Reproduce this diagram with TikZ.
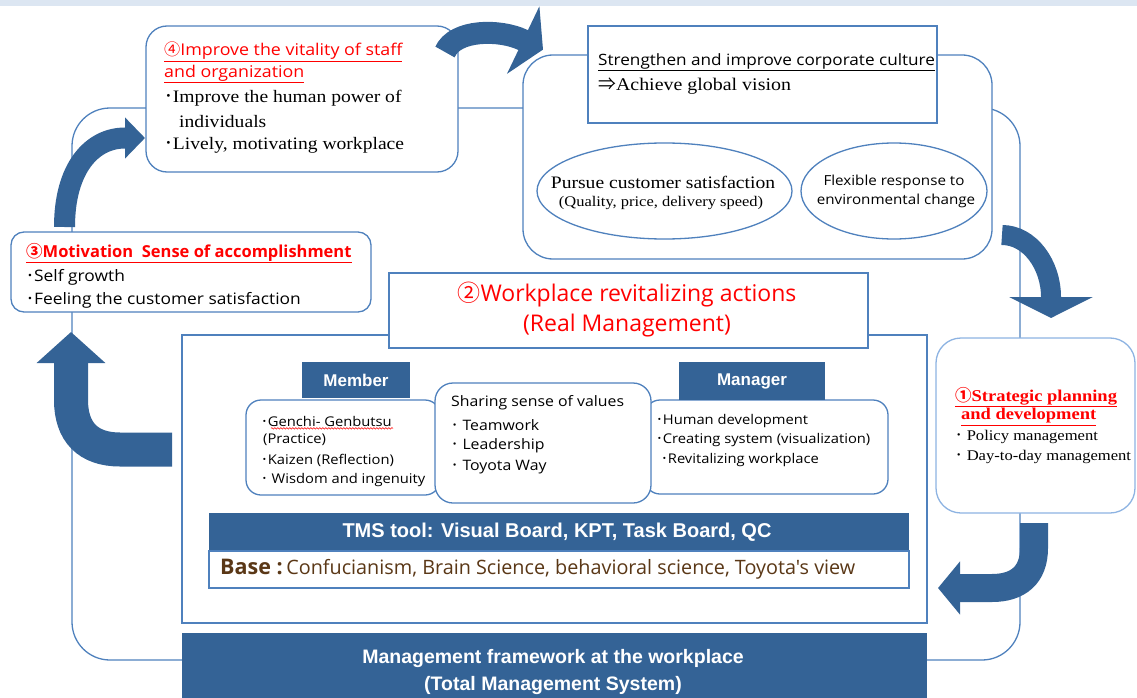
\documentclass[tikz,border=0pt]{standalone}
\usepackage{fontspec}
\setmainfont{Liberation Serif}
\newfontfamily\cent{Liberation Serif}[FakeStretch=1.12]
\newfontfamily\mei{Open Sans}
\newfontfamily\meiw{Open Sans}[FakeStretch=1.1]
\newfontfamily\heavy{Liberation Sans}
\newfontfamily\cjk{Noto Sans CJK JP}
\usetikzlibrary{arrows.meta,shapes.geometric,decorations.pathmorphing,fit}
\definecolor{arrowblue}{RGB}{52,99,150}
\definecolor{boxblue}{RGB}{79,129,189}
\definecolor{lightbox}{RGB}{141,179,226}
\definecolor{strip}{RGB}{220,230,242}
\definecolor{tred}{RGB}{255,0,0}
\definecolor{brown}{RGB}{90,55,22}
\newcommand{\fsz}[1]{\fontsize{#1}{#1}\selectfont}
\newcommand{\bul}{{\cjk ･}}
\tikzset{
  loopline/.style={draw=boxblue, line width=1.3pt},
  rbox/.style={draw=boxblue, fill=white, line width=1.3pt, inner sep=0pt},
  darkbox/.style={fill=arrowblue, inner sep=0pt},
  lbl/.style={inner sep=0pt, anchor=west},
  ctr/.style={inner sep=0pt},
  fatarrow/.style={draw=arrowblue, line cap=butt},
}
\begin{document}
\begin{tikzpicture}[x=1pt,y=-1pt]
\useasboundingbox (0,0) rectangle (1137,698);
% top strip
\fill[strip] (0,0) rectangle (1137,6);
% big loop
\node[loopline, rounded corners=38pt, inner sep=0pt, fit={(72,108) (1020,660)}] (loop) {};
% container and its contents
\node[rbox, rounded corners=30pt, fit={(523,55) (992,259)}] (cont) {};
\node[rbox, fit={(588,26) (937,123)}] (cult) {};
\node[draw=boxblue, line width=1.3pt, fill=white, ellipse, minimum width=255pt, minimum height=96pt, inner sep=0pt] (e1) at (664.5,191) {};
\node[draw=boxblue, line width=1.3pt, fill=white, ellipse, minimum width=186pt, minimum height=96pt, inner sep=0pt] (e2) at (894,191) {};
% box 4 and box 3
\node[rbox, rounded corners=21pt, fit={(146,26) (458,172)}] (b4) {};
\node[rbox, rounded corners=13pt, fit={(11,232) (371,312)}] (b3) {};
% central frame
\node[rbox, fit={(182,335) (927,623)}] (frame) {};
\node[rbox, fit={(389,273) (868,348)}] (b2) {};
\node[rbox, rounded corners=15pt, fit={(246,400) (440,495)}] (mem) {};
\node[rbox, rounded corners=15pt, fit={(645,400) (888,494)}] (man) {};
\node[rbox, rounded corners=18pt, fit={(435,383) (651,503)}] (share) {};
\node[darkbox, fit={(302,362) (410,398)}] (memlbl) {};
\node[darkbox, fit={(679,362) (825,400)}] (manlbl) {};
\node[darkbox, fit={(209,513) (909,551)}] (tms) {};
\node[rbox, fit={(209,551) (909,588)}] (base) {};
\node[darkbox, fit={(182,633) (927,702)}] (mgmt) {};
% box 1
\node[draw=lightbox, fill=white, line width=1.3pt, inner sep=0pt, rounded corners=25pt, fit={(936,338) (1135,513)}] (b1) {};

% arrows
\coordinate (a1s) at (445,52);   \coordinate (a1e) at (543,49.6);
\coordinate (a2s) at (1002,235); \coordinate (a2e) at (1051,318);
\coordinate (a3s) at (1034,523); \coordinate (a3e) at (938,588);
\coordinate (a4s) at (172,449.5);\coordinate (a4e) at (71,332);
\coordinate (a5s) at (64.5,227); \coordinate (a5e) at (145,138);
\draw[fatarrow, line width=22pt, -{Triangle[length=22pt,width=74pt]}]
  (a1s) .. controls (455,29) and (500,29) .. (523,40) -- (a1e);
\draw[fatarrow, line width=20pt, -{Triangle[length=21pt,width=83pt]}]
  (a2s) .. controls (1030,235) and (1051,265) .. (1051,297) -- (a2e);
\draw[fatarrow, line width=28pt, -{Triangle[length=22pt,width=52pt]}]
  (a3s) -- (1034,548) .. controls (1034,575) and (1018,588) .. (992,588) -- (a3e);
\draw[fatarrow, line width=34pt, -{Triangle[length=31pt,width=67pt]}]
  (a4s) -- (120,449.5) .. controls (88,449.5) and (71,432) .. (71,400) -- (a4e);
\draw[fatarrow, line width=21pt, -{Triangle[length=20pt,width=40pt]}]
  (a5s) .. controls (64.5,168) and (92,138) .. (125,138) -- (a5e);

% texts box 4
\node[lbl, text=tred, font=\meiw\fsz{16.2}] (t4a) at (164,52) {\underline{{\cjk ④}Improve the vitality of staff}};
\node[lbl, text=tred, font=\meiw\fsz{16.2}] (t4b) at (164,74) {\underline{and organization}};
\node[lbl, font=\cent\fsz{17.5}] (t4c) at (164,98) {\bul Improve the human power of};
\node[lbl, font=\cent\fsz{17.5}] (t4d) at (179,122) {individuals};
\node[lbl, font=\cent\fsz{17.5}] (t4e) at (164,145) {\bul Lively, motivating workplace};
% culture
\node[lbl, font=\meiw\fsz{15.6}] (tc1) at (598,62) {\underline{Strengthen and improve corporate culture}};
\node[lbl, font=\cent\fsz{17.8}] (tc2) at (598,86) {{\cjk ⇒}Achieve global vision};
\node[ctr, font=\cent\fsz{17.5}] (te1a) at (663,182) {Pursue customer satisfaction};
\node[ctr, font=\cent\fsz{14.7}] (te1b) at (661,203) {(Quality, price, delivery speed)};
\node[ctr, font=\meiw\fsz{13.8}] (te2a) at (894,182) {Flexible response to};
\node[ctr, font=\meiw\fsz{13.8}] (te2b) at (896,201) {environmental change};
% box 2 title
\node[ctr, text=tred, font=\mei\fsz{23}] (t2a) at (627,295) {{\cjk ②}Workplace revitalizing actions};
\node[ctr, text=tred, font=\mei\fsz{23}] (t2b) at (627,326) {(Real Management)};
% box 3
\node[lbl, text=tred, font=\mei\bfseries\fsz{16.5}] (t3a) at (26,253) {\underline{{\cjk ③}Motivation\ \ Sense of accomplishment}};
\node[lbl, font=\meiw\fsz{15.8}] (t3b) at (26,277) {\bul Self growth};
\node[lbl, font=\meiw\fsz{15.8}] (t3c) at (26,300) {\bul Feeling the customer satisfaction};
% member
\node[ctr, text=white, font=\heavy\bfseries\fsz{17}] (tmem) at (356,380) {Member};
\node[ctr, text=white, font=\heavy\bfseries\fsz{17}] (tman) at (752,381) {Manager};
\node[lbl, font=\meiw\fsz{13.4}] (tm1) at (261,421) {\bul Genchi- Genbutsu};
\draw[tred, line width=0.5pt, decorate, decoration={snake, amplitude=0.8pt, segment length=3pt}] (tm1.south west) ++(10,2) -- ++(122,0);
\node[lbl, font=\meiw\fsz{13.4}] (tm2) at (263,440) {(Practice)};
\node[lbl, font=\meiw\fsz{13.4}] (tm3) at (261,460) {\bul Kaizen (Reflection)};
\node[lbl, font=\meiw\fsz{13.4}] (tm4) at (261,480) {\bul\ Wisdom and ingenuity};
% sharing
\node[lbl, font=\meiw\fsz{14.4}] (ts1) at (451,403) {Sharing sense of values};
\node[lbl, font=\meiw\fsz{14.4}] (ts2) at (451,425) {\bul\ Teamwork};
\node[lbl, font=\meiw\fsz{14.4}] (ts3) at (451,446) {\bul\ Leadership};
\node[lbl, font=\meiw\fsz{14.4}] (ts4) at (451,467) {\bul\ Toyota Way};
% manager
\node[lbl, font=\meiw\fsz{13.4}] (tg1) at (656,421) {\bul Human development};
\node[lbl, font=\meiw\fsz{13.4}] (tg2) at (656,440) {\bul Creating system (visualization)};
\node[lbl, font=\meiw\fsz{13.4}] (tg3) at (661,460) {\bul Revitalizing workplace};
% tms / base
\node[ctr, text=white, font=\heavy\bfseries\fsz{20}] (ttms) at (557,532) {TMS tool: Visual Board, KPT, Task Board, QC};
\node[lbl, text=brown, font=\mei\fsz{19.8}] (tbase) at (220,569) {{\bfseries\fsz{21.5}Base :\,}Confucianism, Brain Science, behavioral science, Toyota's view};
% management framework
\node[ctr, text=white, font=\heavy\bfseries\fsz{19.5}] (tmg1) at (553,658) {Management framework at the workplace};
\node[ctr, text=white, font=\heavy\bfseries\fsz{19.5}] (tmg2) at (553,685) {(Total Management System)};
% box 1
\node[lbl, text=tred, font=\cent\bfseries\fsz{16.5}] (t1a) at (955,397) {\underline{{\cjk ①}Strategic planning}};
\node[lbl, text=tred, font=\cent\bfseries\fsz{16.5}] (t1b) at (961,417) {\underline{and development}};
\node[lbl, font=\cent\fsz{14.8}] (t1c) at (955,437) {\bul\ Policy management};
\node[lbl, font=\cent\fsz{14.8}] (t1d) at (955,457) {\bul\ Day-to-day management};
\end{tikzpicture}
\end{document}
